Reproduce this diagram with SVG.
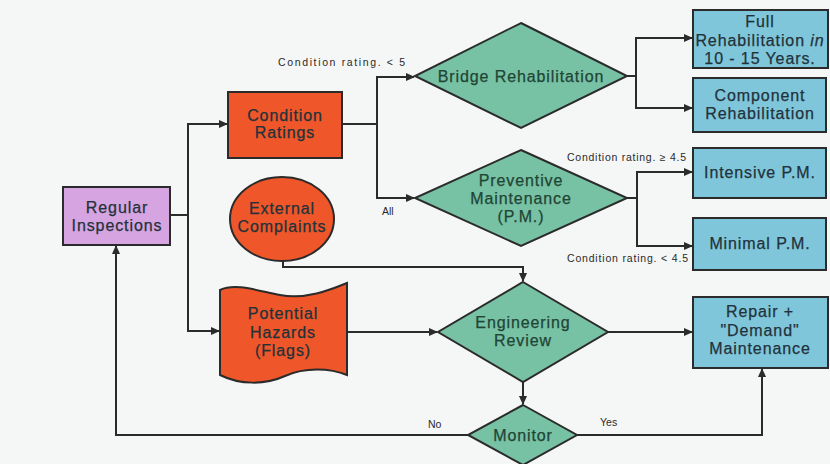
<svg xmlns="http://www.w3.org/2000/svg" width="830" height="464" viewBox="0 0 830 464">
<defs>
<style>
.bg{fill:#f5f6f6}
.n{stroke:#2b2b2b;stroke-width:2}
.green{fill:#77c1a4}
.blue{fill:#80c6da}
.purple{fill:#d7a4e2}
.orange{fill:#ef5629}
.t{font-family:"Liberation Sans",Arial,sans-serif;font-size:16px;letter-spacing:0.9px;text-anchor:middle;fill:#22323a;stroke:#22323a;stroke-width:0.25}
.tg{fill:#1f4535;stroke:#1f4535}
.s{font-family:"Liberation Sans",Arial,sans-serif;font-size:10.5px;fill:#2a2a2a}
.c{fill:none;stroke:#2b2b2b;stroke-width:2}
</style>
<marker id="ah" markerUnits="userSpaceOnUse" markerWidth="9" markerHeight="8" refX="8" refY="4" orient="auto">
<path d="M0,0 L9,4 L0,8 z" fill="#2b2b2b"/>
</marker>
</defs>
<rect class="bg" x="0" y="0" width="830" height="464"/>

<g id="connectors">
<path class="c" d="M170,215 H188 V124 H227" marker-end="url(#ah)"/>
<path class="c" d="M188,215 V331 H219" marker-end="url(#ah)"/>
<path class="c" d="M342,124 H377 V77 H414" marker-end="url(#ah)"/>
<path class="c" d="M377,124 V198 H414" marker-end="url(#ah)"/>
<path class="c" d="M627,76 H636 V38 H692" marker-end="url(#ah)"/>
<path class="c" d="M636,76 V108 H692" marker-end="url(#ah)"/>
<path class="c" d="M627,198 H637 V172 H692" marker-end="url(#ah)"/>
<path class="c" d="M637,198 V246 H692" marker-end="url(#ah)"/>
<path class="c" d="M283,261 V267 H523 V281" marker-end="url(#ah)"/>
<path class="c" d="M347,332 H437" marker-end="url(#ah)"/>
<path class="c" d="M608,332 H692" marker-end="url(#ah)"/>
<path class="c" d="M523,382 V404" marker-end="url(#ah)"/>
<path class="c" d="M468,435 H116 V246" marker-end="url(#ah)"/>
<path class="c" d="M577,435 H762 V369" marker-end="url(#ah)"/>
<text class="s" x="278" y="66" textLength="127" lengthAdjust="spacing">Condition rating. &lt; 5</text>
<text class="s" x="382" y="215">All</text>
<text class="s" x="567" y="161" textLength="119" lengthAdjust="spacing">Condition rating. ≥ 4.5</text>
<text class="s" x="567" y="262" textLength="121" lengthAdjust="spacing">Condition rating. &lt; 4.5</text>
<text class="s" x="428" y="428" font-size="11">No</text>
<text class="s" x="600" y="426" font-size="11">Yes</text>
</g>

<g id="regular-inspections">
<rect class="n purple" x="63" y="187" width="107" height="58"/>
<text class="t" x="117" y="213" font-size="15">Regular</text>
<text class="t" x="117" y="231" font-size="15" letter-spacing="0.4">Inspections</text>
</g>

<g id="condition-ratings">
<rect class="n orange" x="228" y="92" width="114" height="66"/>
<text class="t" x="285" y="121">Condition</text>
<text class="t" x="285" y="138">Ratings</text>
</g>

<g id="external-complaints">
<ellipse class="n orange" cx="282" cy="219" rx="52" ry="42"/>
<text class="t" x="282" y="214">External</text>
<text class="t" x="282" y="232" letter-spacing="0.6">Complaints</text>
</g>

<g id="potential-hazards">
<path class="n orange" d="M220,290 C235,283 255,290 280,295 C305,300 330,290 347,283 L347,375 C330,368 305,367 285,376 C265,385 240,385 220,375 Z"/>
<text class="t" x="283" y="319">Potential</text>
<text class="t" x="283" y="338">Hazards</text>
<text class="t" x="283" y="356">(Flags)</text>
</g>

<g id="bridge-rehabilitation">
<polygon class="n green" points="521,23 627,76 521,128 415,76"/>
<text class="t tg" x="521" y="82">Bridge Rehabilitation</text>
</g>

<g id="preventive-maintenance">
<polygon class="n green" points="521,150 627,198 521,246 415,198"/>
<text class="t tg" x="521" y="186">Preventive</text>
<text class="t tg" x="521" y="204">Maintenance</text>
<text class="t tg" x="521" y="222">(P.M.)</text>
</g>

<g id="engineering-review">
<polygon class="n green" points="523,282 608,332 523,382 438,332"/>
<text class="t tg" x="523" y="328">Engineering</text>
<text class="t tg" x="523" y="346">Review</text>
</g>

<g id="monitor">
<polygon class="n green" points="523,405 577,435 523,465 468,435"/>
<text class="t tg" x="523" y="441">Monitor</text>
</g>

<g id="full-rehabilitation">
<rect class="n blue" x="693" y="10" width="135" height="58"/>
<text class="t" x="760" y="27">Full</text>
<text class="t" x="760" y="46" letter-spacing="0.9">Rehabilitation <tspan font-style="italic">in</tspan></text>
<text class="t" x="760" y="64">10 - 15 Years.</text>
</g>

<g id="component-rehabilitation">
<rect class="n blue" x="693" y="78" width="133" height="54"/>
<text class="t" x="760" y="101">Component</text>
<text class="t" x="760" y="119">Rehabilitation</text>
</g>

<g id="intensive-pm">
<rect class="n blue" x="693" y="148" width="133" height="50"/>
<text class="t" x="760" y="178">Intensive P.M.</text>
</g>

<g id="minimal-pm">
<rect class="n blue" x="693" y="218" width="133" height="52"/>
<text class="t" x="760" y="249">Minimal P.M.</text>
</g>

<g id="repair-demand">
<rect class="n blue" x="693" y="297" width="135" height="71"/>
<text class="t" x="760" y="317">Repair +</text>
<text class="t" x="760" y="336">"Demand"</text>
<text class="t" x="760" y="354">Maintenance</text>
</g>
</svg>
